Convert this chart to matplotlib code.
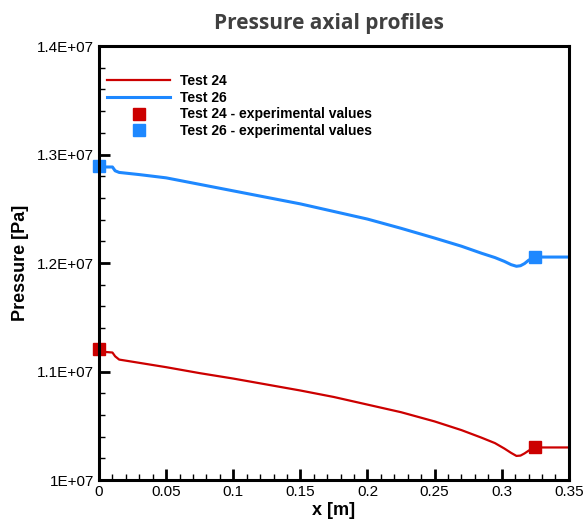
import matplotlib
matplotlib.use("Agg")
import matplotlib.pyplot as plt
from matplotlib.ticker import MultipleLocator, FixedLocator, FixedFormatter

x_sim = [0, 0.005, 0.01, 0.012, 0.015, 0.03, 0.05, 0.075, 0.1, 0.125, 0.15, 0.175,
         0.2, 0.225, 0.25, 0.27, 0.285, 0.295, 0.302, 0.307, 0.311, 0.314, 0.317,
         0.32, 0.323, 0.326, 0.335, 0.35]
p_test24 = [1.1185, 1.118, 1.1175, 1.114, 1.111, 1.108, 1.104, 1.0985, 1.0935, 1.088,
            1.0825, 1.0765, 1.0695, 1.0625, 1.054, 1.046, 1.039, 1.034, 1.029, 1.025,
            1.0222, 1.0225, 1.0245, 1.027, 1.029, 1.030, 1.030, 1.030]
p_test26 = [1.2885, 1.2885, 1.2885, 1.285, 1.2835, 1.2815, 1.2785, 1.2725, 1.2665, 1.2605,
            1.2545, 1.2475, 1.2405, 1.232, 1.223, 1.2155, 1.209, 1.205, 1.2015, 1.1985,
            1.197, 1.1975, 1.1995, 1.2025, 1.2045, 1.2055, 1.2055, 1.2055]
x_exp = [0.0, 0.325]
p_exp24 = [1.121, 1.030]
p_exp26 = [1.289, 1.2055]
ytick_vals = [1.0e7, 1.1e7, 1.2e7, 1.3e7, 1.4e7]
ytick_labels = ["1E+07", "1.1E+07", "1.2E+07", "1.3E+07", "1.4E+07"]
xtick_vals = [0, 0.05, 0.1, 0.15, 0.2, 0.25, 0.3, 0.35]
xtick_labels = ["0", "0.05", "0.1", "0.15", "0.2", "0.25", "0.3", "0.35"]

red = "#cc0000"
blue = "#1e88ff"

plt.rcParams['font.family'] = ['Liberation Sans', 'DejaVu Sans']
fig = plt.figure(figsize=(5.87, 5.23), dpi=100)
ax = fig.add_axes([0.1687, 0.0822, 0.8003, 0.8298])

ax.plot(x_sim, [v * 1e7 for v in p_test24], color=red, lw=1.6, label="Test 24")
ax.plot(x_sim, [v * 1e7 for v in p_test26], color=blue, lw=2.2, label="Test 26")
ax.plot(x_exp, [v * 1e7 for v in p_exp24], ls="none", marker="s", ms=8, color=red,
        label="Test 24 - experimental values", clip_on=False)
ax.plot(x_exp, [v * 1e7 for v in p_exp26], ls="none", marker="s", ms=8, color=blue,
        label="Test 26 - experimental values", clip_on=False)

ax.set_xlim(0, 0.35)
ax.set_ylim(1.0e7, 1.4e7)
ax.xaxis.set_major_locator(FixedLocator(xtick_vals))
ax.xaxis.set_major_formatter(FixedFormatter(xtick_labels))
ax.xaxis.set_minor_locator(MultipleLocator(0.01))
ax.yaxis.set_major_locator(FixedLocator(ytick_vals))
ax.yaxis.set_major_formatter(FixedFormatter(ytick_labels))
ax.yaxis.set_minor_locator(MultipleLocator(2e5))
ax.tick_params(which="both", direction="in", top=False, right=False, labelsize=11)
ax.tick_params(which="major", length=8, width=2)
ax.tick_params(which="minor", length=4, width=1)
for s in ax.spines.values():
    s.set_linewidth(2.2)

ax.set_xlabel("x [m]", fontsize=13, fontweight="bold", labelpad=2)
ax.set_ylabel("Pressure [Pa]", fontsize=13, fontweight="bold", labelpad=6)
fig.text(0.56, 0.955, "Pressure axial profiles", ha="center", va="center",
         fontsize=15, fontweight="bold", color="#404040", family=["Open Sans", "DejaVu Sans"])

leg = ax.legend(loc="upper left", bbox_to_anchor=(0.0, 0.955), frameon=False,
                fontsize=10, handlelength=4.5, handletextpad=0.7, labelspacing=0.2,
                borderaxespad=0.2)
for t in leg.get_texts():
    t.set_fontweight("bold")

fig.savefig("out.png", dpi=100)
